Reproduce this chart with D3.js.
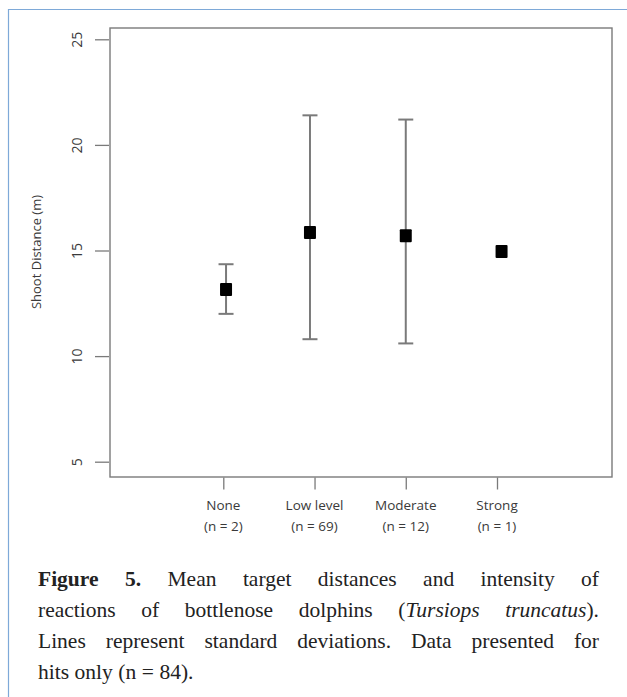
<!DOCTYPE html>
<html>
<head>
  <meta charset="utf-8">
  <script src="https://d3js.org/d3.v7.min.js"></script>
  <style>
    body { margin: 0; background: #fff; }
    svg { display: block; }
  </style>
</head>
<body>
<script>
  // categories and their n
  var categories = ["None", "Low level", "Moderate", "Strong"];
  var counts = ["(n = 2)", "(n = 69)", "(n = 12)", "(n = 1)"];
  // where each category tick sits and where its point was plotted
  var tickPos = [1, 2, 3, 4];
  var pointPos = [1.03, 1.95, 3.0, 4.05];
  // mean shoot distance and SD range (m); Strong has n = 1 so no SD
  var means = [13.15, 15.85, 15.7, 14.95];
  var lower = [12.0, 10.8, 10.6, null];
  var upper = [14.35, 21.4, 21.2, null];
  var yTicks = [5, 10, 15, 20, 25];

  var width = 627, height = 697;
  var box = {left: 110, right: 612, top: 28, bottom: 477};

  var svg = d3.select("body").append("svg")
      .attr("width", width)
      .attr("height", height);

  // blue outer frame of the figure
  svg.append("path")
      .attr("d", "M8.5," + height + "V9.5H" + width)
      .attr("fill", "none")
      .attr("stroke", "#7ea9d8")
      .attr("stroke-width", 1.2);

  var x = d3.scaleLinear().domain([1, 4]).range([223.3, 497]);
  var y = d3.scaleLinear().domain([5, 25]).range([461.7, 39.3]);

  var grey = "#7a7a7a";

  svg.append("rect")
      .attr("x", box.left).attr("y", box.top)
      .attr("width", box.right - box.left)
      .attr("height", box.bottom - box.top)
      .attr("fill", "none")
      .attr("stroke", grey)
      .attr("stroke-width", 1.4);

  // y axis
  var yAxis = d3.axisLeft(y).tickValues(yTicks).tickSize(14).tickPadding(8);
  var gy = svg.append("g")
      .attr("transform", "translate(" + (box.left - 1) + ",0)")
      .call(yAxis);
  gy.select(".domain").remove();
  gy.selectAll(".tick line").attr("stroke", grey).attr("stroke-width", 1.3);
  gy.selectAll(".tick text")
      .attr("fill", "#3a3a3a")
      .style("font-family", "'Open Sans', 'Liberation Sans', sans-serif")
      .style("font-size", "14px")
      .attr("x", null).attr("dy", null)
      .attr("text-anchor", "middle")
      .attr("transform", "translate(-27,0) rotate(-90)")
      .attr("y", 0);

  svg.append("text")
      .attr("transform", "translate(41,252) rotate(-90)")
      .attr("text-anchor", "middle")
      .attr("fill", "#3a3a3a")
      .style("font-family", "'Open Sans', 'Liberation Sans', sans-serif")
      .style("font-size", "13px")
      .text("Shoot Distance (m)");

  // x axis
  var xAxis = d3.axisBottom(x).tickValues(tickPos).tickSize(12).tickFormat("");
  var gx = svg.append("g")
      .attr("transform", "translate(0," + (box.bottom + 0.5) + ")")
      .call(xAxis);
  gx.select(".domain").remove();
  gx.selectAll(".tick line").attr("stroke", grey).attr("stroke-width", 1.3);

  var labels = svg.append("g")
      .style("font-family", "'Open Sans', 'Liberation Sans', sans-serif")
      .style("font-size", "13.5px")
      .attr("fill", "#3a3a3a")
      .attr("text-anchor", "middle");
  categories.forEach(function(c, i) {
    labels.append("text").attr("x", x(tickPos[i])).attr("y", 510).text(c);
    labels.append("text").attr("x", x(tickPos[i])).attr("y", 531).text(counts[i]);
  });

  // error bars
  var capW = 15;
  var bars = svg.append("g").attr("stroke", grey).attr("stroke-width", 2);
  means.forEach(function(m, i) {
    if (lower[i] == null) return;
    var cx = x(pointPos[i]);
    bars.append("line").attr("x1", cx).attr("x2", cx)
        .attr("y1", y(lower[i])).attr("y2", y(upper[i]));
    bars.append("line").attr("x1", cx - capW / 2).attr("x2", cx + capW / 2)
        .attr("y1", y(lower[i])).attr("y2", y(lower[i]));
    bars.append("line").attr("x1", cx - capW / 2).attr("x2", cx + capW / 2)
        .attr("y1", y(upper[i])).attr("y2", y(upper[i]));
  });

  // mean markers
  svg.append("g").selectAll("rect")
      .data(means)
      .join("rect")
      .attr("x", function(d, i) { return x(pointPos[i]) - 6; })
      .attr("y", function(d) { return y(d) - 6.5; })
      .attr("width", 12)
      .attr("height", 13)
      .attr("rx", 1)
      .attr("fill", "#000");

  // caption, justified by hand
  var caption = [
    [[["Figure", "b"]], [["5.", "b"]], [["Mean"]], [["target"]], [["distances"]], [["and"]], [["intensity"]], [["of"]]],
    [[["reactions"]], [["of"]], [["bottlenose"]], [["dolphins"]], [["("], ["Tursiops", "i"]], [["truncatus", "i"], [")."]]],
    [[["Lines"]], [["represent"]], [["standard"]], [["deviations."]], [["Data"]], [["presented"]], [["for"]]],
    [[["hits"]], [["only"]], [["(n"]], [["="]], [["84)."]]]
  ];
  var capLeft = 38, capRight = 599, capTop = 586, lineH = 31;
  var cap = svg.append("g")
      .style("font-family", "'Liberation Serif', 'DejaVu Serif', serif")
      .style("font-size", "21.5px")
      .attr("fill", "#222");

  caption.forEach(function(words, li) {
    var texts = words.map(function(w) {
      var t = cap.append("text").attr("y", capTop + li * lineH);
      w.forEach(function(seg) {
        var ts = t.append("tspan").text(seg[0]);
        if (seg[1] === "b") ts.attr("font-weight", "bold");
        if (seg[1] === "i") ts.attr("font-style", "italic");
      });
      return t;
    });
    var widths = texts.map(function(t) { return t.node().getComputedTextLength(); });
    var total = d3.sum(widths);
    var last = li === caption.length - 1;
    var gap = last ? 5.5 : (capRight - capLeft - total) / (texts.length - 1);
    var cx = capLeft;
    texts.forEach(function(t, k) {
      t.attr("x", cx);
      cx += widths[k] + gap;
    });
  });
</script>
</body>
</html>
